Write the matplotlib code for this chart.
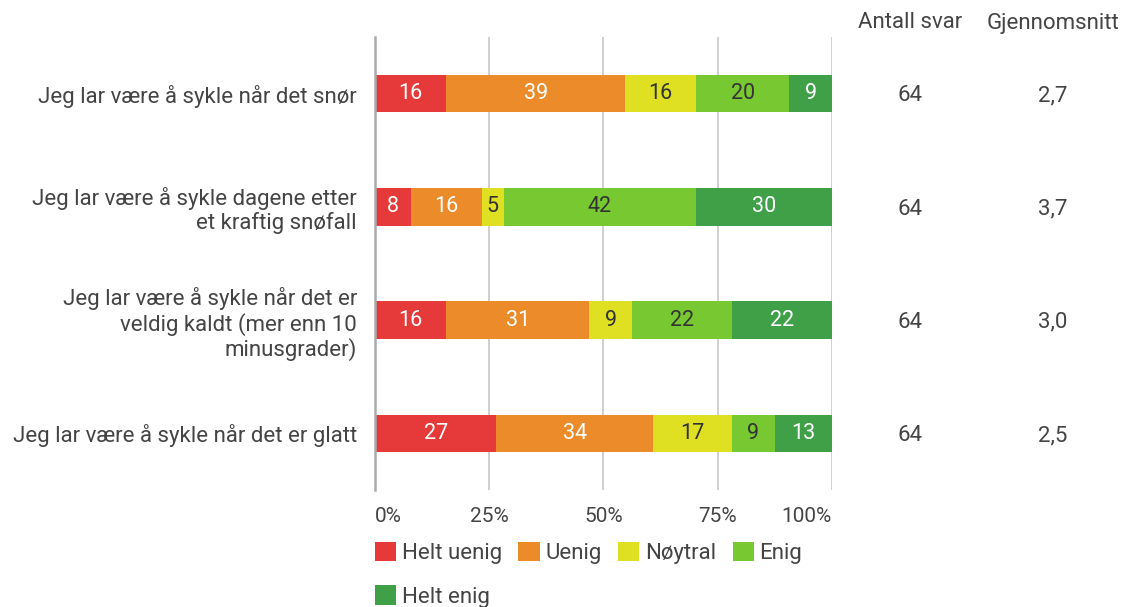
import matplotlib.pyplot as plt
import numpy as np
from matplotlib.patches import Patch
from matplotlib.transforms import blended_transform_factory

plt.rcParams['font.family'] = ['Roboto', 'DejaVu Sans']

# spørsmål (ovenfra og ned)
questions = [
    "Jeg lar være å sykle når det snør",
    "Jeg lar være å sykle dagene etter\net kraftig snøfall",
    "Jeg lar være å sykle når det er\nveldig kaldt (mer enn 10\nminusgrader)",
    "Jeg lar være å sykle når det er glatt",
]
categories = ["Helt uenig", "Uenig", "Nøytral", "Enig", "Helt enig"]
colors = ["#e63a3a", "#ec8b2a", "#dfe022", "#78c832", "#40a048"]
text_colors = ["white", "white", "#333333", "#333333", "white"]

# antall svar per kategori (rad = spørsmål)
counts = np.array([
    [10, 25, 10, 13, 6],
    [5, 10, 3, 27, 19],
    [10, 20, 6, 14, 14],
    [17, 22, 11, 6, 8],
])
n_answers = [64, 64, 64, 64]
averages = ["2,7", "3,7", "3,0", "2,5"]

TXT = "#444444"
FS = 16

pct = counts / counts.sum(axis=1, keepdims=True) * 100

fig = plt.figure(figsize=(11.23, 6.07), dpi=100)
ax = fig.add_axes([375 / 1123, 1 - 490 / 607, (832 - 375) / 1123, (490 - 37) / 607])

y = np.arange(len(questions))
left = np.zeros(len(questions))
for j, cat in enumerate(categories):
    ax.barh(y, pct[:, j], left=left, height=0.33, color=colors[j], zorder=3)
    for i in range(len(questions)):
        ax.text(left[i] + pct[i, j] / 2, y[i], str(int(pct[i, j] + 0.5)),
                ha='center', va='center', color=text_colors[j], fontsize=15.5, zorder=4)
    left += pct[:, j]

ax.set_xlim(0, 100)
ax.set_ylim(3.5, -0.5)
ax.set_xticks([0, 25, 50, 75, 100])
ax.set_xticklabels(["0%", "25%", "50%", "75%", "100%"], fontsize=15, color=TXT)
labs = ax.get_xticklabels()
labs[0].set_ha('left')
labs[-1].set_ha('right')
ax.tick_params(axis='x', length=0, pad=12)
ax.set_yticks(y)
ax.set_yticklabels(questions, fontsize=FS, color=TXT, linespacing=1.15)
ax.tick_params(axis='y', length=0, pad=13)
ax.grid(axis='x', color="#cccccc", linewidth=1.3, zorder=0)
for s in ['top', 'right', 'bottom']:
    ax.spines[s].set_visible(False)
ax.spines['left'].set_color("#aaaaaa")
ax.spines['left'].set_linewidth(1.8)
ax.spines['left'].set_zorder(5)

# kolonner til høyre
tr = blended_transform_factory(fig.transFigure, ax.transData)
fig.text(910 / 1123, 1 - 23 / 607, "Antall svar", ha='center', va='center', fontsize=FS, color=TXT)
fig.text(1053 / 1123, 1 - 23 / 607, "Gjennomsnitt", ha='center', va='center', fontsize=FS, color=TXT)
for i in range(len(questions)):
    ax.text(910 / 1123, y[i] + 0.02, str(n_answers[i]), transform=tr, ha='center', va='center',
            fontsize=FS, color=TXT)
    ax.text(1053 / 1123, y[i] + 0.02, averages[i], transform=tr, ha='center', va='center',
            fontsize=FS, color=TXT)

# forklaring: to rader, "Helt enig" alene på andre rad
handles = [Patch(facecolor=c, edgecolor='none') for c in colors]
order = [0, 4, 1, 2, 3]
fig.legend([handles[k] for k in order], [categories[k] for k in order],
           loc='upper left', bbox_to_anchor=(375 / 1123, 1 - 542 / 607), ncol=4,
           frameon=False, fontsize=FS, labelcolor=TXT, borderpad=0, borderaxespad=0,
           handlelength=0.95, handleheight=0.95, handletextpad=0.25,
           columnspacing=0.75, labelspacing=0.95)

plt.savefig("out.png")
